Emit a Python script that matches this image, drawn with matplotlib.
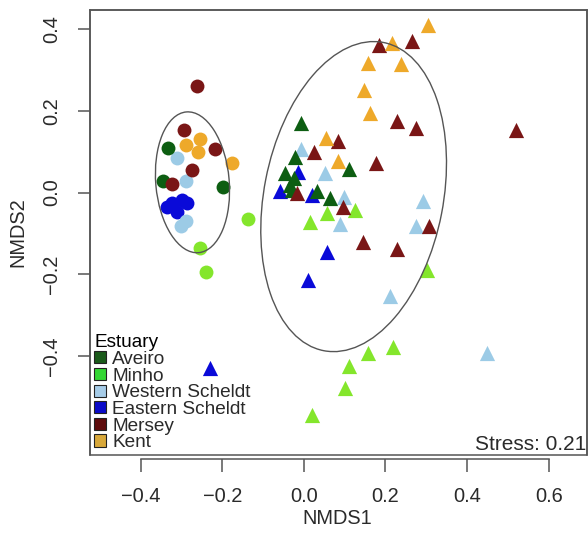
import matplotlib
matplotlib.use("Agg")
import matplotlib.pyplot as plt
from matplotlib.patches import Ellipse, Patch, Rectangle

plt.rcParams["font.family"] = ["Liberation Sans", "DejaVu Sans"]

# ── Data (NMDS scores) ───────────────────────────────────────────────
estuaries = ["Aveiro", "Minho", "Western Scheldt", "Eastern Scheldt", "Mersey", "Kent"]
point_colors = ["#0d5e12", "#84e62c", "#9ccbe6", "#0a0ad8", "#7a1616", "#eea92a"]
legend_colors = ["#1a5a1a", "#33d633", "#a6cce8", "#0a0ac8", "#5e0c0c", "#d8a83a"]

# circles (first group)
circ_aveiro_x = [-0.334, -0.346, -0.199]
circ_aveiro_y = [0.108, 0.028, 0.014]
circ_minho_x = [-0.136, -0.255, -0.240]
circ_minho_y = [-0.065, -0.137, -0.194]
circ_wsch_x = [-0.312, -0.289, -0.289, -0.302]
circ_wsch_y = [0.084, 0.028, -0.071, -0.082]
circ_esch_x = [-0.324, -0.299, -0.287, -0.311, -0.336]
circ_esch_y = [-0.026, -0.018, -0.026, -0.048, -0.036]
circ_mersey_x = [-0.263, -0.293, -0.218, -0.274, -0.322]
circ_mersey_y = [0.261, 0.153, 0.106, 0.055, 0.020]
circ_kent_x = [-0.255, -0.289, -0.259, -0.176]
circ_kent_y = [0.130, 0.116, 0.100, 0.073]

# triangles (second group)
tri_aveiro_x = [-0.008, -0.022, -0.047, -0.025, -0.034, -0.030, 0.031, 0.064, 0.110]
tri_aveiro_y = [0.170, 0.086, 0.047, 0.035, 0.018, 0.006, 0.004, -0.014, 0.057]
tri_minho_x = [0.015, 0.056, 0.125, 0.301, 0.219, 0.158, 0.110, 0.100, 0.021]
tri_minho_y = [-0.072, -0.051, -0.043, -0.190, -0.378, -0.393, -0.424, -0.480, -0.545]
tri_wsch_x = [-0.006, 0.051, 0.098, 0.088, 0.291, 0.274, 0.212, 0.449]
tri_wsch_y = [0.106, 0.047, -0.010, -0.076, -0.022, -0.082, -0.254, -0.394]
tri_esch_x = [-0.059, -0.014, 0.019, 0.056, 0.011, -0.231]
tri_esch_y = [0.004, 0.051, -0.006, -0.145, -0.214, -0.430]
tri_mersey_x = [-0.018, 0.025, 0.084, 0.095, 0.176, 0.229, 0.275, 0.185, 0.266,
                0.144, 0.229, 0.306, 0.520]
tri_mersey_y = [0.000, 0.100, 0.127, -0.035, 0.073, 0.174, 0.157, 0.362, 0.372,
                -0.121, -0.139, -0.082, 0.153]
tri_kent_x = [0.054, 0.084, 0.162, 0.147, 0.158, 0.237, 0.217, 0.305]
tri_kent_y = [0.133, 0.078, 0.194, 0.251, 0.317, 0.315, 0.366, 0.411]

circles = [(circ_aveiro_x, circ_aveiro_y), (circ_minho_x, circ_minho_y),
           (circ_wsch_x, circ_wsch_y), (circ_esch_x, circ_esch_y),
           (circ_mersey_x, circ_mersey_y), (circ_kent_x, circ_kent_y)]
triangles = [(tri_aveiro_x, tri_aveiro_y), (tri_minho_x, tri_minho_y),
             (tri_wsch_x, tri_wsch_y), (tri_esch_x, tri_esch_y),
             (tri_mersey_x, tri_mersey_y), (tri_kent_x, tri_kent_y)]

# group ellipses: centre, width, height, angle
ell_circ = ((-0.273, 0.025), 0.180, 0.346, 5)
ell_tri = ((0.122, -0.010), 0.439, 0.769, -11)

stress = 0.21
xticks = [-0.4, -0.2, 0.0, 0.2, 0.4, 0.6]
yticks = [-0.4, -0.2, 0.0, 0.2, 0.4]

# ── Plot ─────────────────────────────────────────────────────────────
fig = plt.figure(figsize=(5.88, 5.36), dpi=100)
ax = fig.add_axes([0.1539, 0.1511, 0.8444, 0.8302])
frame_col = "#555555"
text_col = "#2a2a2a"

draw_order = [3, 2, 0, 1, 4, 5]
for i in draw_order:
    x, y = circles[i]
    ax.scatter(x, y, s=100, marker="o", color=point_colors[i], linewidths=0, zorder=3)
for i in draw_order:
    x, y = triangles[i]
    ax.scatter(x, y, s=120, marker="^", color=point_colors[i], linewidths=0, zorder=3)

for (c, w, h, a) in [ell_circ, ell_tri]:
    ax.add_patch(Ellipse(c, w, h, angle=a, fill=False, edgecolor=frame_col,
                         linewidth=1.0, zorder=4))

ax.set_xlim(-0.523, 0.694)
ax.set_ylim(-0.643, 0.447)

# box plus separate R-style x axis line
for side in ["top", "right", "left"]:
    ax.spines[side].set_color(frame_col)
    ax.spines[side].set_linewidth(1.1)
ax.spines["bottom"].set_position(("outward", 3))
ax.spines["bottom"].set_bounds(-0.4, 0.6)
ax.spines["bottom"].set_color(frame_col)
ax.spines["bottom"].set_linewidth(1.1)
ax.add_patch(Rectangle((0, 0), 1, 1, transform=ax.transAxes, fill=False,
                       edgecolor=frame_col, linewidth=1.1, clip_on=False, zorder=5))

ax.set_xticks(xticks)
ax.set_xticklabels([f"{v:.1f}".replace("-", "\u2212") for v in xticks])
ax.set_yticks(yticks)
ax.set_yticklabels([f"{v:.1f}".replace("-", "\u2212") for v in yticks],
                   rotation=90, va="center")
ax.tick_params(axis="both", length=9, width=1.1, color=frame_col,
               labelsize=14.4, labelcolor=text_col)
ax.tick_params(axis="x", pad=11)
ax.tick_params(axis="y", pad=12)

ax.set_xlabel("NMDS1", fontsize=14.4, color=text_col)
ax.set_ylabel("NMDS2", fontsize=14.4, color=text_col)
ax.xaxis.set_label_coords(0.497, -0.122)
ax.yaxis.set_label_coords(-0.128, 0.5)

ax.text(0.999, 0.003, f"Stress: {stress}", transform=ax.transAxes,
        ha="right", va="bottom", fontsize=15, color=text_col)

handles = [Patch(facecolor=c, edgecolor="#222222", linewidth=0.8) for c in legend_colors]
ax.legend(handles, estuaries, title="Estuary", loc="lower left",
          bbox_to_anchor=(0, 0), frameon=False, fontsize=13.7,
          title_fontsize=13.7, handlelength=0.6, handleheight=0.6,
          handletextpad=0.35, labelspacing=-0.02, borderpad=0.1,
          borderaxespad=0.1, alignment="left", labelcolor=text_col)

fig.savefig("out.png", dpi=100)
